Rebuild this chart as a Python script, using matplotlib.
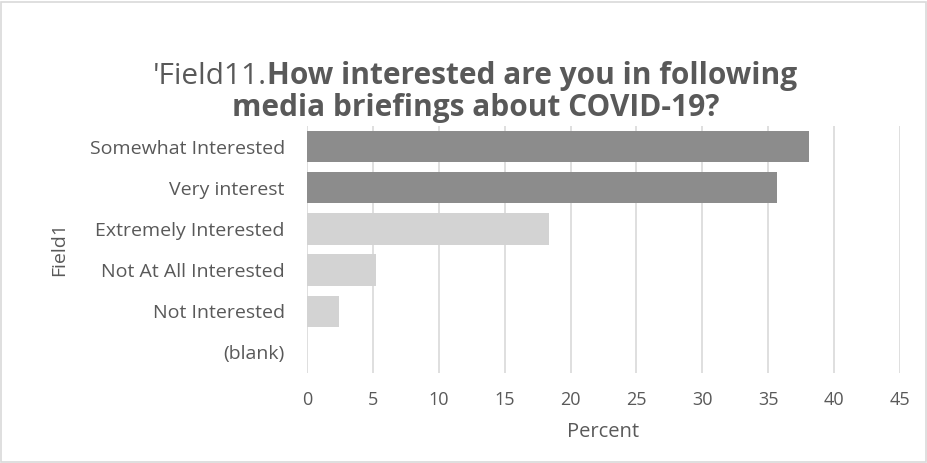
import matplotlib
matplotlib.use("Agg")
import matplotlib.pyplot as plt
from matplotlib.patches import Rectangle

categories = ["Somewhat Interested", "Very interest", "Extremely Interested",
              "Not At All Interested", "Not Interested", "(blank)"]
percent = [38.1, 35.7, 18.4, 5.2, 2.4, 0.0]
bar_colors = ["#8c8c8c", "#8c8c8c", "#d3d3d3", "#d3d3d3", "#d3d3d3", "#d3d3d3"]
xticks = [0, 5, 10, 15, 20, 25, 30, 35, 40, 45]

FONT = "Open Sans"
TXT = "#595959"

W, H = 928, 463
fig = plt.figure(figsize=(W / 100, H / 100), dpi=100)
fig.patch.set_facecolor("white")

# outer chart frame
fig.add_artist(Rectangle((1 / W, 1 / H), 1 - 3 / W, 1 - 3 / H, transform=fig.transFigure,
                         fill=False, edgecolor="#d9d9d9", linewidth=1.2))

ax = fig.add_axes([307 / W, 1 - 373 / H, (900 - 307) / W, (373 - 126) / H])
y = list(range(len(categories)))
ax.barh(y, percent, height=0.76, color=bar_colors, zorder=3)
ax.set_ylim(len(categories) - 0.5, -0.5)
ax.set_xlim(0, 45)
ax.set_xticks(xticks)
ax.set_xticklabels([str(t) for t in xticks])
ax.set_yticks(y)
ax.set_yticklabels(categories)
ax.grid(axis="x", color="#d9d9d9", linewidth=1.2, zorder=0)
for s in ax.spines.values():
    s.set_visible(False)
ax.tick_params(axis="both", length=0, colors=TXT)
ax.tick_params(axis="x", pad=13, labelsize=13)
ax.tick_params(axis="y", pad=16, labelsize=14)
for lab in ax.get_xticklabels() + ax.get_yticklabels():
    lab.set_fontfamily(FONT)
ax.set_xlabel("Percent", fontsize=14.5, color=TXT, fontfamily=FONT, labelpad=9)
ax.set_ylabel("Field1", fontsize=14, color=TXT, fontfamily=FONT)
ax.yaxis.set_label_coords(-0.403, 0.5)

# two-line title with mixed weight on the first line
title_size = 21.5
fig.canvas.draw()
r = fig.canvas.get_renderer()
t1 = fig.text(0, 1 - 84 / H, "'Field11.", fontsize=title_size, color=TXT,
              fontfamily=FONT, va="baseline", ha="left")
t2 = fig.text(0, 1 - 84 / H, "How interested are you in following", fontsize=title_size,
              color=TXT, fontfamily=FONT, fontweight="bold", va="baseline", ha="left")
w1 = t1.get_window_extent(r).width
w2 = t2.get_window_extent(r).width
x0 = 153
t1.set_x(x0 / W)
t2.set_x((x0 + w1) / W)
fig.text(476 / W, 1 - 116 / H, "media briefings about COVID-19?", fontsize=title_size,
         color=TXT, fontfamily=FONT, fontweight="bold", va="baseline", ha="center")

fig.savefig("out.png", dpi=100, facecolor="white")
